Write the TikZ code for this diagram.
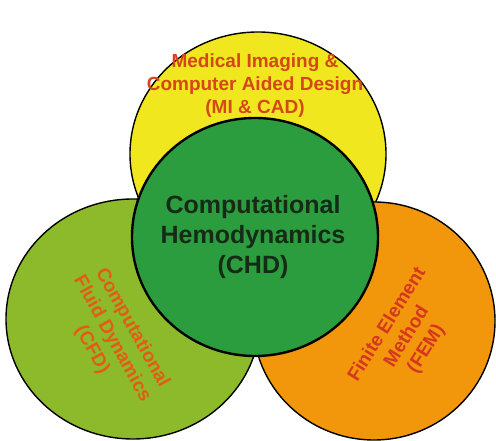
\documentclass[tikz,border=0pt]{standalone}
\usepackage{fontspec}
\setmainfont{Liberation Sans}
\begin{document}
\begin{tikzpicture}[x=1pt,y=1pt,
  disc/.style={draw=black,line width=1.4pt},
  hub/.style={draw=black,line width=2.4pt},
  label/.style={align=center,font=\bfseries\fontsize{19}{23}\selectfont,inner sep=0pt}]
  \definecolor{cadyellow}{RGB}{240,231,30}
  \definecolor{cfdgreen}{RGB}{141,186,42}
  \definecolor{femorange}{RGB}{242,150,12}
  \definecolor{chdgreen}{RGB}{44,157,63}
  \definecolor{txtcad}{RGB}{212,72,24}
  \definecolor{txtcfd}{RGB}{226,92,22}
  \definecolor{txtfem}{RGB}{214,56,30}
  \definecolor{txtchd}{RGB}{22,42,24}
  \useasboundingbox (0,0) rectangle (496,441);
  \fill[white] (0,0) rectangle (496,441);

  % outer discs
  \draw[disc,fill=cadyellow] (258,287) ellipse [x radius=128, y radius=122];
  \draw[disc,fill=cfdgreen] (133,122) ellipse [x radius=127, y radius=120];
  \draw[disc,fill=femorange] (374,120) ellipse [x radius=121, y radius=119];
  % central disc
  \draw[hub,fill=chdgreen] (255,204) ellipse [x radius=123, y radius=119];

  % labels
  \node[label,text=txtcad] (cad) at (255,355)
    {Medical Imaging \&\\Computer Aided Design\\(MI \& CAD)};
  \node[label,text=txtcfd,rotate=-61] (cfd) at (112,102)
    {Computational\\Fluid Dynamics\\(CFD)};
  \node[label,text=txtfem,rotate=58] (fem) at (407,104)
    {Finite Element\\Method\\(FEM)};
  \node[label,text=txtchd,font=\bfseries\fontsize{25}{30}\selectfont] (chd) at (253,204)
    {Computational\\Hemodynamics\\(CHD)};
\end{tikzpicture}
\end{document}
